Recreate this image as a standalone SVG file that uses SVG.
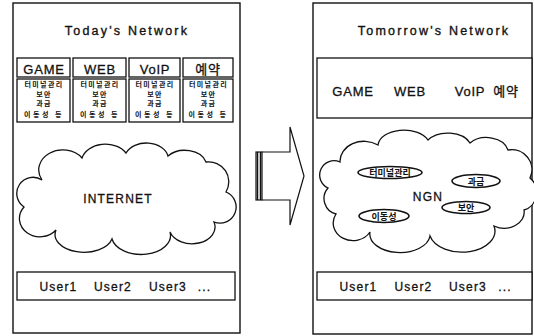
<svg xmlns="http://www.w3.org/2000/svg" width="534" height="336" viewBox="0 0 534 336">
  <style>
    .frame { fill: #fff; stroke: #111; stroke-width: 1.4; }
    .box { fill: #fff; stroke: #111; stroke-width: 1.3; }
    .cloud { fill: #fff; stroke: #111; stroke-width: 1.3; }
    .oval { fill: #fff; stroke: #111; stroke-width: 1.6; }
    .title { font-family: "Liberation Sans", Arial, sans-serif; font-size: 12.5px; letter-spacing: 2.2px; fill: #111; stroke: #111; stroke-width: 0.35; text-anchor: middle; }
    .svc { font-family: "Liberation Sans", "Noto Sans CJK KR", sans-serif; font-size: 13px; letter-spacing: 0.8px; fill: #111; stroke: #111; stroke-width: 0.3; text-anchor: middle; }
    .lbl { font-family: "Liberation Sans", Arial, sans-serif; font-size: 12px; letter-spacing: 1.2px; fill: #111; stroke: #111; stroke-width: 0.3; text-anchor: middle; }
    .tiny { font-family: "Noto Sans CJK KR", sans-serif; font-size: 7px; font-weight: bold; letter-spacing: 1.4px; fill: #111; text-anchor: middle; }
    .kr { font-family: "Noto Sans CJK KR", sans-serif; font-size: 9px; font-weight: bold; fill: #111; text-anchor: middle; }
  </style>

  <rect width="534" height="336" fill="#fff"/>

  <!-- Left panel: today's network -->
  <g id="today">
    <rect class="frame" x="13" y="3" width="227" height="330"/>
    <text class="title" x="127" y="35">Today's Network</text>
  </g>

  <g id="today-services">
    <rect class="box" x="17" y="58" width="53" height="19"/>
    <rect class="box" x="73" y="58" width="53" height="19"/>
    <rect class="box" x="129" y="58" width="51" height="19"/>
    <rect class="box" x="183" y="58" width="50" height="19"/>
    <text class="svc" x="44" y="74">GAME</text>
    <text class="svc" x="100" y="74">WEB</text>
    <text class="svc" x="155" y="74">VoIP</text>
    <text class="svc" x="208" y="74">예약</text>
  </g>

  <g id="today-functions">
    <rect class="box" x="17" y="79" width="53" height="43"/>
    <rect class="box" x="73" y="79" width="53" height="43"/>
    <rect class="box" x="129" y="79" width="51" height="43"/>
    <rect class="box" x="183" y="79" width="50" height="43"/>
    <g class="tiny">
      <text x="44" y="87">터미널관리</text>
      <text x="44" y="96.5">보안</text>
      <text x="44" y="106">과금</text>
      <text x="44" y="117" letter-spacing="2.5">이동성 등</text>
      <text x="100" y="87">터미널관리</text>
      <text x="100" y="96.5">보안</text>
      <text x="100" y="106">과금</text>
      <text x="100" y="117" letter-spacing="2.5">이동성 등</text>
      <text x="155" y="87">터미널관리</text>
      <text x="155" y="96.5">보안</text>
      <text x="155" y="106">과금</text>
      <text x="155" y="117" letter-spacing="2.5">이동성 등</text>
      <text x="208.5" y="87">터미널관리</text>
      <text x="208.5" y="96.5">보안</text>
      <text x="208.5" y="106">과금</text>
      <text x="208.5" y="117" letter-spacing="2.5">이동성 등</text>
    </g>
  </g>

  <g id="internet">
    <path class="cloud" d="M 42,180 A 24 20 0 0 1 82,158 A 24 18 0 0 1 126,153 A 22 16 0 0 1 168,156 A 22 16 0 0 1 206,162 A 20 20 0 0 1 226,192 A 16 16 0 0 1 214,222 A 22 16 0 0 1 170,232 A 28 18 0 0 1 112,239 A 26 16 0 0 1 56,230 A 18 16 0 0 1 24,207 A 14 14 0 0 1 42,180 Z"/>
    <text class="lbl" x="118" y="203">INTERNET</text>
  </g>

  <g id="today-users">
    <rect class="box" x="17" y="272" width="218" height="28"/>
    <text class="lbl" x="58.5" y="291">User1</text>
    <text class="lbl" x="113" y="291">User2</text>
    <text class="lbl" x="168" y="291">User3</text>
    <text class="lbl" x="204.5" y="291">...</text>
  </g>

  <!-- Transition arrow between the two panels -->
  <g id="connectors">
    <path d="M 262,152 H 290 V 127 L 304,176 L 290,225 V 200 H 262" fill="#fff" stroke="#111" stroke-width="1.2"/>
    <rect x="256" y="152" width="6" height="48" fill="#fff" stroke="#111" stroke-width="1.2"/>
    <line x1="257.5" y1="152" x2="257.5" y2="200" stroke="#111" stroke-width="1.5"/>
    <line x1="260.5" y1="152" x2="260.5" y2="200" stroke="#111" stroke-width="1.5"/>
  </g>

  <!-- Right panel: tomorrow's network -->
  <g id="tomorrow">
    <rect class="frame" x="313" y="3" width="219" height="331"/>
    <text class="title" x="434" y="35">Tomorrow's Network</text>
  </g>

  <g id="tomorrow-services">
    <rect class="box" x="317" y="58" width="215" height="60"/>
    <text class="svc" x="353" y="96">GAME</text>
    <text class="svc" x="410" y="96">WEB</text>
    <text class="svc" x="470" y="96">VoIP</text>
    <text class="svc" x="506" y="96">예약</text>
  </g>

  <g id="ngn">
    <path class="cloud" d="M 340,162 A 24 20 0 0 1 378,145 A 26 16 0 0 1 428,140 A 24 16 0 0 1 470,143 A 22 16 0 0 1 508,150 A 20 20 0 0 1 530,178 A 16 18 0 0 1 524,210 A 20 16 0 0 1 494,226 A 28 18 0 0 1 430,236 A 26 16 0 0 1 370,232 A 18 16 0 0 1 336,214 A 16 16 0 0 1 328,188 A 14 14 0 0 1 340,162 Z"/>
    <text class="lbl" x="428" y="201">NGN</text>
  </g>

  <g id="ngn-terminal">
    <ellipse class="oval" cx="390" cy="172.5" rx="32" ry="6"/>
    <text class="kr" x="390" y="176">터미널관리</text>
  </g>
  <g id="ngn-billing">
    <ellipse class="oval" cx="476" cy="181" rx="24" ry="6.5"/>
    <text class="kr" x="476" y="184.5">과금</text>
  </g>
  <g id="ngn-security">
    <ellipse class="oval" cx="466" cy="207.5" rx="24" ry="6"/>
    <text class="kr" x="466" y="211">보안</text>
  </g>
  <g id="ngn-mobility">
    <ellipse class="oval" cx="384" cy="216" rx="25" ry="6.5"/>
    <text class="kr" x="384" y="219.5">이동성</text>
  </g>

  <g id="tomorrow-users">
    <rect class="box" x="317" y="272" width="215" height="28"/>
    <text class="lbl" x="358.5" y="291">User1</text>
    <text class="lbl" x="413.5" y="291">User2</text>
    <text class="lbl" x="468" y="291">User3</text>
    <text class="lbl" x="505" y="291">...</text>
  </g>
</svg>
